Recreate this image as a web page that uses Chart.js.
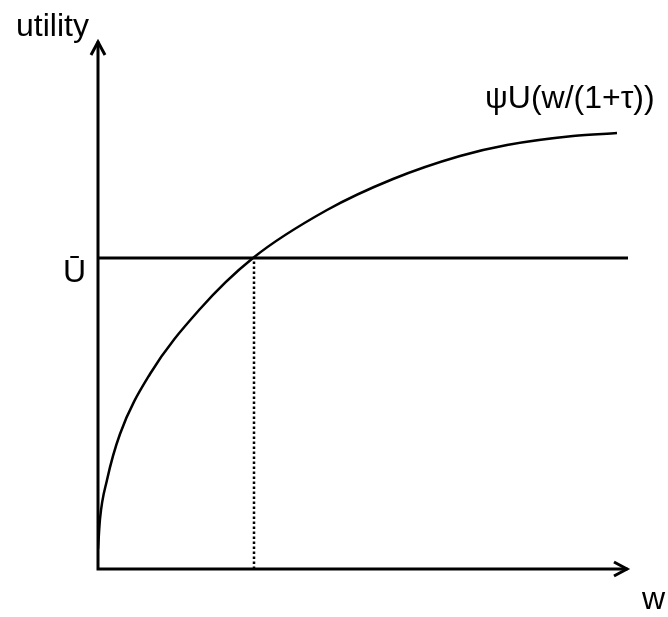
<!DOCTYPE html>
<html>
<head>
<meta charset="utf-8">
<script src="https://cdn.jsdelivr.net/npm/chart.js@4"></script>
<style>
html, body { margin: 0; padding: 0; background: #fff; }
</style>
</head>
<body>
<canvas id="grafico" width="668" height="617"></canvas>
<script>
// wage values along the curve and the utility they give
const curveW = [0, 2, 9, 22, 52, 102, 155, 229, 295, 362, 409, 475, 519];
const curveU = [20, 50, 89, 135, 195, 260, 311, 359, 390, 413, 424, 433, 436];

// reservation utility level and where the curve crosses it
const levelU = 311;
const levelEndW = 530;
const crossW = 156;

// axis extents (arrow tips)
const axisMaxW = 529;
const axisMaxU = 527;

const yTitle = 'utility';
const xTitle = 'w';
const curveLabel = 'ψU(w/(1+τ))';
const levelLabel = 'Ū';

const axesPlugin = {
	id: 'axes',
	afterDatasetsDraw(chart) {
		const ctx = chart.ctx;
		const x = chart.scales.x;
		const y = chart.scales.y;
		const x0 = x.getPixelForValue(0);
		const y0 = y.getPixelForValue(0);
		const xTip = x.getPixelForValue(axisMaxW);
		const yTip = y.getPixelForValue(axisMaxU);

		ctx.save();
		ctx.strokeStyle = '#000';
		ctx.lineWidth = 3;
		ctx.lineCap = 'square';

		ctx.beginPath();
		ctx.moveTo(x0, yTip + 1);
		ctx.lineTo(x0, y0);
		ctx.lineTo(xTip - 1, y0);
		ctx.stroke();

		ctx.lineCap = 'butt';
		ctx.lineJoin = 'miter';
		ctx.beginPath();
		ctx.moveTo(x0 - 7, yTip + 13);
		ctx.lineTo(x0, yTip);
		ctx.lineTo(x0 + 7, yTip + 13);
		ctx.stroke();

		ctx.beginPath();
		ctx.moveTo(xTip - 13, y0 - 7);
		ctx.lineTo(xTip, y0);
		ctx.lineTo(xTip - 13, y0 + 7);
		ctx.stroke();

		ctx.fillStyle = '#000';
		ctx.font = '32px "Liberation Sans", Arial, sans-serif';
		ctx.textBaseline = 'alphabetic';
		ctx.textAlign = 'left';
		ctx.fillText(yTitle, 16, 36);
		ctx.fillText(curveLabel, 485, 108);
		ctx.fillText(xTitle, 642, 609);
		ctx.textAlign = 'right';
		ctx.fillText(levelLabel, x0 - 12, y.getPixelForValue(levelU) + 24);
		ctx.restore();
	}
};

new Chart(document.getElementById('grafico'), {
	type: 'line',
	data: {
		datasets: [{
			data: curveW.map((w, i) => ({ x: w, y: curveU[i] })),
			borderColor: '#000',
			borderWidth: 2.5,
			pointRadius: 0,
			cubicInterpolationMode: 'monotone'
		}, {
			data: [{ x: 0, y: levelU }, { x: levelEndW, y: levelU }],
			borderColor: '#000',
			borderWidth: 3,
			pointRadius: 0
		}, {
			data: [{ x: crossW, y: 0 }, { x: crossW, y: levelU }],
			borderColor: '#000',
			borderWidth: 2.5,
			borderDash: [2.5, 2.5],
			pointRadius: 0
		}]
	},
	options: {
		responsive: false,
		devicePixelRatio: 1,
		animation: false,
		layout: { padding: { left: 98, right: 25, top: 35, bottom: 48 } },
		scales: {
			x: { type: 'linear', min: 0, max: 545, display: false },
			y: { type: 'linear', min: 0, max: 534, display: false }
		},
		plugins: {
			legend: { display: false },
			tooltip: { enabled: false }
		}
	},
	plugins: [axesPlugin]
});
</script>
</body>
</html>
